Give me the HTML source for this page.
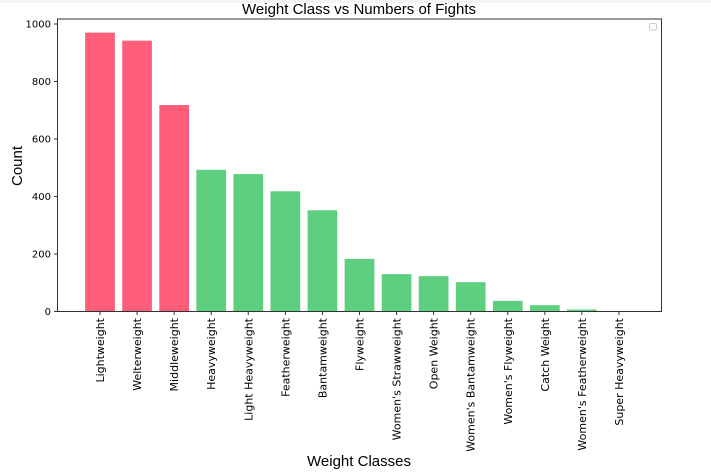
<!DOCTYPE html>
<html><head><meta charset="utf-8"><style>
html,body{margin:0;padding:0;background:#fff;}
svg{display:block;font-family:"DejaVu Sans","Liberation Sans",sans-serif;}
</style></head><body>
<svg id="chart" width="711" height="474" viewBox="0 0 711 474">
<rect x="0" y="0" width="711" height="3" fill="#f4f4f4"/>
<text x="359" y="14" text-anchor="middle" font-size="15" fill="#000" font-family="Liberation Sans">Weight Class vs Numbers of Fights</text>
<text x="359" y="466" text-anchor="middle" font-size="15" fill="#000" font-family="Liberation Sans">Weight Classes</text>
<text transform="translate(22,166) rotate(-90)" text-anchor="middle" font-size="15" fill="#000" font-family="Liberation Sans">Count</text>
<g id="plot"></g>
<rect x="57.5" y="19" width="604" height="292.5" fill="none" stroke="#333" stroke-width="1"/>
<rect x="649.5" y="23.5" width="7" height="6.5" rx="1.5" fill="#fff" stroke="#ccc" stroke-width="1"/>
</svg>
<script>
const categories=["Lightweight","Welterweight","Middleweight","Heavyweight","Light Heavyweight","Featherweight","Bantamweight","Flyweight","Women's Strawweight","Open Weight","Women's Bantamweight","Women's Flyweight","Catch Weight","Women's Featherweight","Super Heavyweight"];
const counts=[970,942,718,493,478,418,352,183,130,123,102,37,22,7,1];
const highlighted=[true,true,true,false,false,false,false,false,false,false,false,false,false,false,false];
const yTicks=[0,200,400,600,800,1000];

const NS="http://www.w3.org/2000/svg";
const g=document.getElementById('plot');
const y0=311.5, yScale=287.5/1000;
function yPos(v){return y0-v*yScale;}
function xPos(i){return 100+i*37.07;}
const bw=29.7;
function mk(t,a){const e=document.createElementNS(NS,t);for(const k in a)e.setAttribute(k,a[k]);g.appendChild(e);return e;}
yTicks.forEach(t=>{
  const y=yPos(t);
  const l=mk('line',{x1:54,x2:57.5,y1:y,y2:y,stroke:'#333'});
  
  
  const tx=mk('text',{x:51,y:y+3.5,'text-anchor':'end','font-size':10,fill:'#000'});
  tx.textContent=t;
  
  
});
categories.forEach((c,i)=>{
  const x=xPos(i), v=counts[i];
  const r=mk('rect',{x:x-bw/2,y:yPos(v),width:bw,height:v*yScale,fill:highlighted[i]?'#ff5e7a':'#5dcf7f'});
  
  
  const l=mk('line',{x1:x,x2:x,y1:311.5,y2:315,stroke:'#333'});
  
  
  const tx=mk('text',{transform:`translate(${x+4},318) rotate(-90)`,'text-anchor':'end','font-size':11,fill:'#000'});
  tx.textContent=c;
  
  
});
</script>
</body></html>
